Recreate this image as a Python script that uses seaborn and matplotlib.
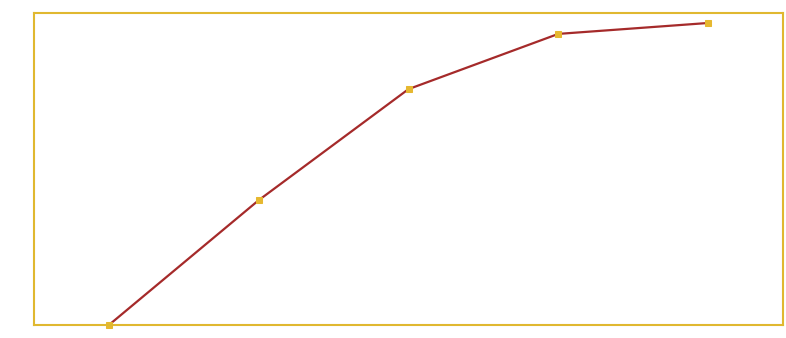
import matplotlib
matplotlib.use("Agg")
import matplotlib.pyplot as plt
import seaborn as sns
import pandas as pd

categories = ["A", "B", "C", "D", "E"]
values = [0, 40, 75.6, 93.3, 96.8]

sns.set_theme(style="white")
fig = plt.figure(figsize=(7.86, 3.38), dpi=100)
ax = fig.add_axes([34/786, 13/338, 749/786, 312/338])
df = pd.DataFrame({"cat": categories, "val": values})
sns.lineplot(data=df, x="cat", y="val", ax=ax, color="#A52A2A", linewidth=1.6,
             marker="s", markersize=5, markerfacecolor="#E6B830", markeredgecolor="#E6B830",
             sort=False)
ax.set_xlim(-0.5, 4.5)
ax.set_ylim(0, 100)
ax.set_xticks([])
ax.set_yticks([])
ax.set_xlabel("")
ax.set_ylabel("")
for s in ax.spines.values():
    s.set_visible(True)
    s.set_color("#E0B830")
    s.set_linewidth(1.5)
for l in ax.lines:
    l.set_clip_on(False)
fig.savefig("out.png", dpi=100)
